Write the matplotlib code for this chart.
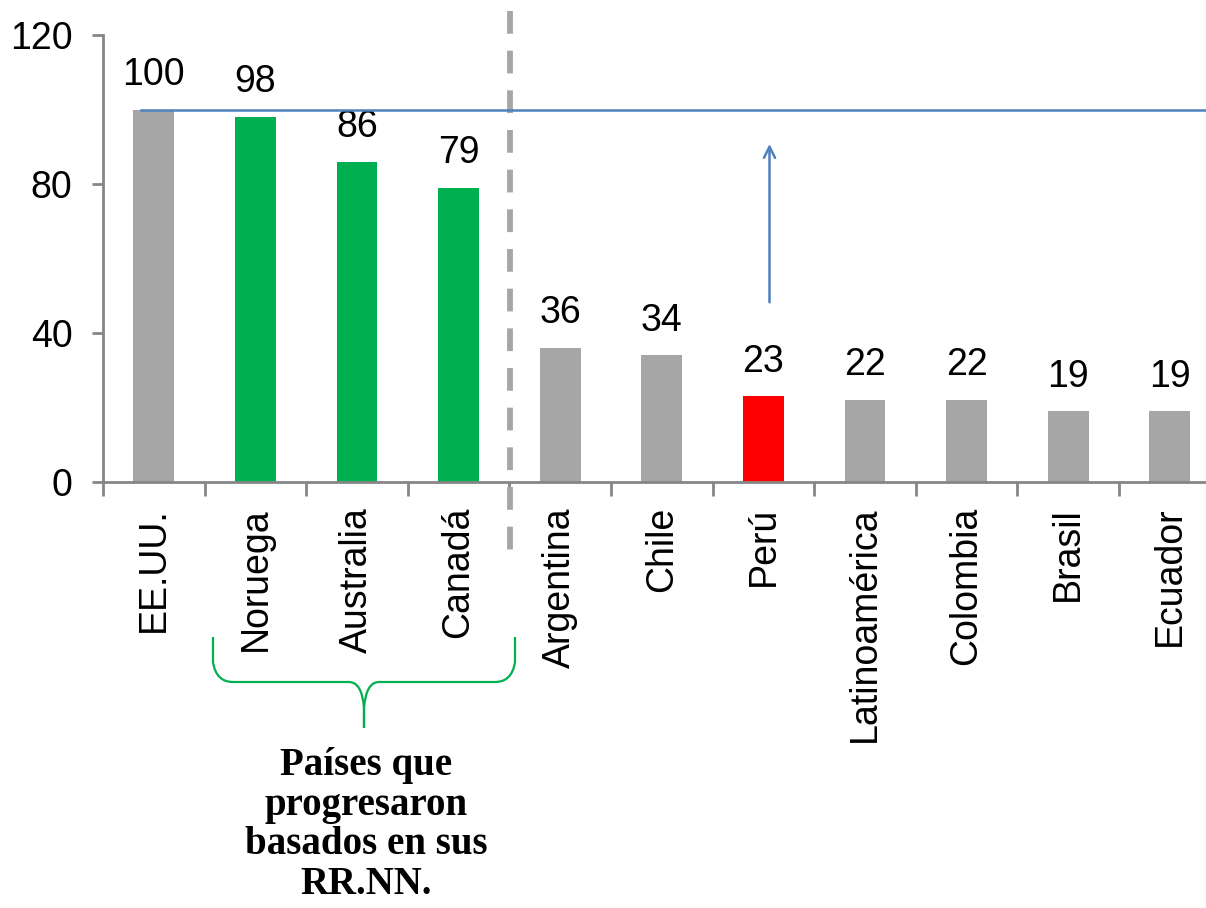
import matplotlib
matplotlib.use('Agg')
import matplotlib.pyplot as plt
from matplotlib.path import Path
from matplotlib.patches import PathPatch

# datos del gráfico
paises = ['EE.UU.', 'Noruega', 'Australia', 'Canadá', 'Argentina', 'Chile',
          'Perú', 'Latinoamérica', 'Colombia', 'Brasil', 'Ecuador']
valores = [100, 98, 86, 79, 36, 34, 23, 22, 22, 19, 19]
colores = ['#A6A6A6', '#00B050', '#00B050', '#00B050', '#A6A6A6', '#A6A6A6',
           '#FF0000', '#A6A6A6', '#A6A6A6', '#A6A6A6', '#A6A6A6']
texto_grupo = 'Países que\nprogresaron\nbasados en sus\nRR.NN.'

plt.rcParams['font.family'] = ['Liberation Sans', 'DejaVu Sans']
gris = '#868686'

fig = plt.figure(figsize=(12.06, 9.08), dpi=100)
ax = fig.add_axes([103 / 1206, 426 / 908, 11 * 101.6 / 1206, 447 / 908])

x = list(range(len(paises)))
ax.bar(x, valores, width=0.4, color=colores, zorder=2)
for i, v in enumerate(valores):
    ax.annotate(str(v), (i, v), xytext=(0, 25), textcoords='offset points',
                ha='center', va='center', fontsize=27)

ax.set_xlim(-0.5, len(paises) - 0.5)
ax.set_ylim(0, 120)
ax.set_yticks([0, 40, 80, 120])
ax.tick_params(axis='y', labelsize=27, length=8, width=2, color=gris, pad=14)

# ticks del eje x en los límites de las categorías
ax.set_xticks([i - 0.5 for i in range(len(paises) + 1)])
ax.set_xticklabels([])
ax.set_xticks(x, minor=True)
ax.set_xticklabels(paises, minor=True, rotation=90, fontsize=27, va='top', ha='center')
ax.tick_params(axis='x', which='major', length=10, width=2, color=gris)
ax.tick_params(axis='x', which='minor', length=0, pad=18)

for s in ['top', 'right']:
    ax.spines[s].set_visible(False)
for s in ['left', 'bottom']:
    ax.spines[s].set_color(gris)
    ax.spines[s].set_linewidth(2)

# línea de referencia en 100 y flecha
ax.plot([-0.13, 10.5], [100, 100], color='#4F81BD', lw=1.8, clip_on=False, zorder=3)
ax.annotate('', xy=(6.06, 91.5), xytext=(6.06, 47.5),
            arrowprops=dict(arrowstyle='->,head_length=0.8,head_width=0.4',
                            color='#4F81BD', lw=1.8))

# línea vertical discontinua
ax.plot([3.51, 3.51], [126.4, -19.1], color='#A6A6A6', lw=4.2, ls=(0, (3.9, 2.9)),
        clip_on=False, zorder=2.5)

# llave verde bajo Noruega-Canadá
def fx(px):
    return px / 1206
def fy(py):
    return 1 - py / 908

xl, xr, xm = 213, 515, 364
yt, yh, yb = 637, 682, 728
verts = [(xl, yt), (xl, yh - 20), (xl + 3, yh), (xl + 20, yh), (xm - 15, yh),
         (xm - 2, yh), (xm, yb - 20), (xm, yb),
         (xm, yb - 20), (xm + 2, yh), (xm + 15, yh), (xr - 20, yh),
         (xr - 3, yh), (xr, yh - 20), (xr, yt)]
verts = [(fx(a), fy(b)) for a, b in verts]
codes = [Path.MOVETO, Path.LINETO, Path.CURVE3, Path.CURVE3, Path.LINETO,
         Path.CURVE3, Path.CURVE3, Path.LINETO,
         Path.LINETO, Path.CURVE3, Path.CURVE3, Path.LINETO,
         Path.CURVE3, Path.CURVE3, Path.LINETO]
fig.add_artist(PathPatch(Path(verts, codes), fill=False, edgecolor='#00B050',
                         lw=1.6, transform=fig.transFigure))

fig.text(fx(366), fy(825), texto_grupo, ha='center', va='center',
         fontsize=28, fontweight='bold', family=['Liberation Serif', 'DejaVu Serif'],
         linespacing=1.1)

plt.savefig('out.png', dpi=100)
